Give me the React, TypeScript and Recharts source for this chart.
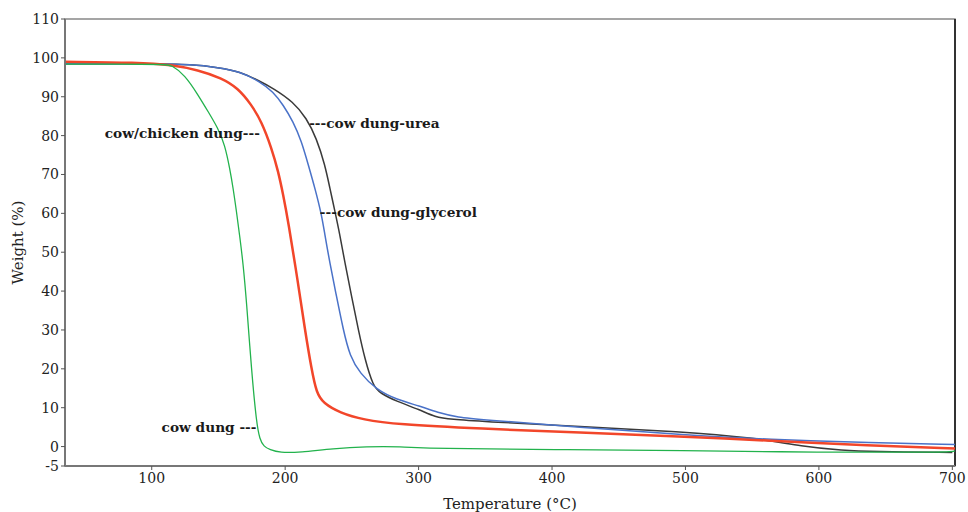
import React from 'react';
import { LineChart, Line, XAxis, YAxis, ReferenceArea, ReferenceLine, ReferenceDot } from 'recharts';

// tick labels
const tempTicks = [100, 200, 300, 400, 500, 600, 700];
const weightTicks = [-5, 0, 10, 20, 30, 40, 50, 60, 70, 80, 90, 100, 110];

// cow dung (green)
const cowDungTemp = [35, 80, 110, 114.8, 124.8, 134.7, 142.2, 149.7, 154.8, 158.5, 161, 163.5, 166, 168.5, 171, 174.8, 178.5, 181, 184, 188.5, 196, 211, 236, 261, 286, 311, 404, 496, 599, 698, 702];
const cowDungWeight = [98.4, 98.4, 98.3, 98.2, 95.6, 90.5, 86.2, 81.9, 77.6, 71.5, 66.5, 60.5, 54, 47, 37.5, 19.5, 6.1, 1.8, 0, -0.8, -1.6, -1.5, -0.5, 0, 0, -0.5, -0.8, -1, -1.5, -1.5, -1.1];

// cow/chicken dung (red)
const chickenTemp = [35, 90, 115, 134.7, 152.3, 164.7, 174.8, 182.3, 189.8, 194.8, 198.5, 202.3, 209.3, 214.8, 219.8, 223.5, 228.5, 241, 258.5, 283.5, 346, 421, 496, 563, 638, 702];
const chickenWeight = [99, 98.8, 98.2, 96.9, 94.8, 92.2, 87.9, 83.6, 76.8, 70.8, 64.8, 57.9, 42.9, 30.1, 19.8, 13.8, 11.2, 8.7, 6.9, 5.7, 4.6, 3.6, 2.6, 1.5, 0.3, -0.5];

// cow dung-glycerol (blue)
const glycerolTemp = [35, 100, 130, 150, 166, 181, 191, 198.5, 206, 212.3, 217.3, 222.3, 227.3, 229.5, 233.5, 238.5, 243.5, 248.5, 256, 268.5, 283.5, 301, 314, 330, 346, 421, 496, 563, 640, 702];
const glycerolWeight = [98.5, 98.5, 98.3, 97.5, 96.5, 93.9, 91.3, 87.9, 83.6, 78.5, 72.5, 66.5, 59.6, 55, 47.2, 38.6, 30.1, 23.2, 18.9, 14.6, 12.1, 10.4, 8.8, 7.5, 7, 4.9, 3.1, 1.8, 1, 0.5];

// cow dung-urea (black)
const ureaTemp = [35, 100, 130, 150, 166, 181, 191, 206, 216, 223.5, 229.8, 233.5, 237.3, 241, 244.8, 249.8, 254.8, 259.8, 266, 271, 283.5, 301, 312, 325, 346, 421, 496, 551, 588, 618, 640, 700];
const ureaWeight = [98.5, 98.5, 98.3, 97.5, 96.5, 94, 92.2, 88.7, 84.5, 79.3, 72.5, 66.5, 60.5, 54.5, 47.2, 38.6, 30.1, 22.4, 15.5, 13.8, 11.6, 9.5, 7.6, 7, 6.5, 5.1, 3.9, 2.3, 0, -1, -1.3, -1.5];

// annotation labels, anchored in data space
const noteText = ['---cow dung-urea', 'cow/chicken dung---', '---cow dung-glycerol', 'cow dung ---'];
const noteTemp = [218, 181, 226, 178.5];
const noteWeight = [83.3, 80.7, 60.4, 5.1];
const noteAnchor = ['start', 'end', 'start', 'end'];

const zip = (temps: number[], weights: number[]) => temps.map((t, i) => ({ t, w: weights[i] }));

const serif = 'DejaVu Serif';

const App: React.FC = () => {
  return (
    <div style={{ position: 'absolute', left: 0, top: 0, width: 968, height: 512, background: '#fff' }}>
      <LineChart width={968} height={512} margin={{ top: 19, right: 13, bottom: 0, left: 5 }}>
        <XAxis
          type="number"
          dataKey="t"
          domain={[35, 702]}
          ticks={tempTicks}
          allowDataOverflow
          height={46}
          tickSize={4}
          tickMargin={3}
          axisLine={{ stroke: '#777', strokeWidth: 2 }}
          tickLine={{ stroke: '#555' }}
          tick={{ fontFamily: serif, fontSize: 14, fill: '#222' }}
          label={{ value: 'Temperature (°C)', position: 'insideBottom', offset: 3, style: { fontFamily: serif, fontSize: 15, fill: '#222' } }}
        />
        <YAxis
          type="number"
          dataKey="w"
          domain={[-5, 110]}
          ticks={weightTicks}
          interval={0}
          allowDataOverflow
          width={60}
          tickSize={4}
          tickMargin={2}
          axisLine={{ stroke: '#777', strokeWidth: 2 }}
          tickLine={{ stroke: '#555' }}
          tick={{ fontFamily: serif, fontSize: 14, fill: '#222' }}
          label={{ value: 'Weight (%)', angle: -90, position: 'insideLeft', offset: 13, style: { textAnchor: 'middle', fontFamily: serif, fontSize: 15, fill: '#222' } }}
        />
        <ReferenceArea x1={35} x2={702} y1={-5} y2={110} fill="none" stroke="#888" strokeWidth={1.5} />
        <ReferenceLine x={702} stroke="#333" strokeWidth={2} />
        <Line data={zip(ureaTemp, ureaWeight)} dataKey="w" type="basis" stroke="#3a3a3a" strokeWidth={1.5} dot={false} isAnimationActive={false} />
        <Line data={zip(glycerolTemp, glycerolWeight)} dataKey="w" type="basis" stroke="#4a72c8" strokeWidth={1.5} dot={false} isAnimationActive={false} />
        <Line data={zip(chickenTemp, chickenWeight)} dataKey="w" type="basis" stroke="#f2462a" strokeWidth={2.5} dot={false} isAnimationActive={false} />
        <Line data={zip(cowDungTemp, cowDungWeight)} dataKey="w" type="basis" stroke="#22b24c" strokeWidth={1.3} dot={false} isAnimationActive={false} />
        {noteText.map((text, i) => (
          <ReferenceDot
            key={text}
            x={noteTemp[i]}
            y={noteWeight[i]}
            r={0}
            fill="none"
            stroke="none"
            label={{
              content: ({ viewBox }: any) => (
                <text
                  x={viewBox.x}
                  y={viewBox.y}
                  textAnchor={noteAnchor[i]}
                  dominantBaseline="central"
                  fontFamily={serif}
                  fontWeight="bold"
                  fontSize={13.7}
                  fill="#1a1a1a"
                >
                  {text}
                </text>
              ),
            }}
          />
        ))}
      </LineChart>
    </div>
  );
};

export default App;
